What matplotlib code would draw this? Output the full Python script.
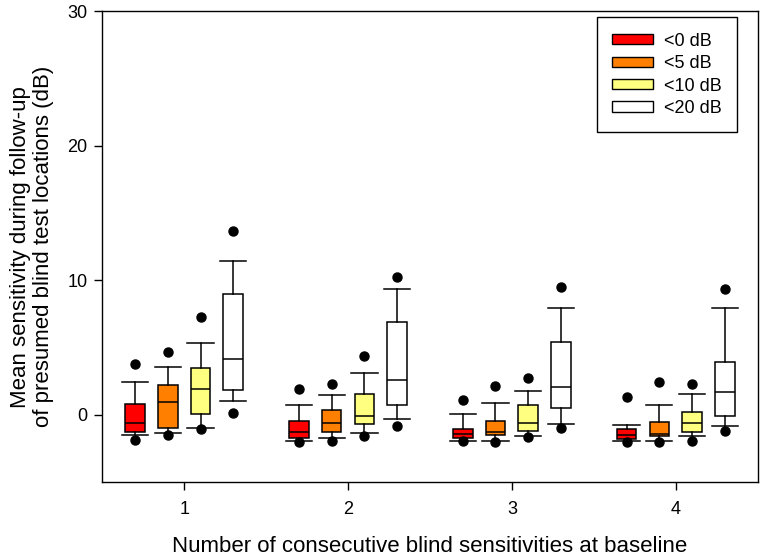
import matplotlib
matplotlib.use("Agg")
from matplotlib import pyplot as plt
from matplotlib.patches import Patch

plt.rcParams['font.family'] = ['Liberation Sans', 'DejaVu Sans']

groups = [1, 2, 3, 4]
series = ["<0 dB", "<5 dB", "<10 dB", "<20 dB"]
colors = ["#FF0000", "#FF8000", "#FFFF80", "#FFFFFF"]

# per series, one value per group (1..4)
q1 = [
    [-1.24, -1.73, -1.70, -1.80],
    [-0.94, -1.26, -1.53, -1.60],
    [0.03, -0.69, -1.19, -1.28],
    [1.83, 0.77, 0.54, -0.05],
]
med = [
    [-0.57, -1.26, -1.40, -1.48],
    [0.96, -0.62, -1.26, -1.43],
    [1.93, -0.07, -0.59, -0.62],
    [4.12, 2.57, 2.10, 1.70],
]
q3 = [
    [0.79, -0.49, -1.04, -1.06],
    [2.22, 0.37, -0.42, -0.52],
    [3.51, 1.53, 0.72, 0.22],
    [9.01, 6.89, 5.41, 3.95],
]
whislo = [
    [-1.50, -1.95, -1.95, -1.95],
    [-1.31, -1.75, -1.95, -1.95],
    [-0.94, -1.38, -1.56, -1.60],
    [1.04, -0.30, -0.69, -0.81],
]
whishi = [
    [2.47, 0.77, 0.10, -0.72],
    [3.56, 1.51, 0.91, 0.77],
    [5.33, 3.14, 1.78, 1.58],
    [11.46, 9.33, 7.93, 7.93],
]
dot_lo = [
    [-1.88, -2.00, -1.97, -2.00],
    [-1.48, -1.95, -2.00, -2.00],
    [-1.06, -1.60, -1.65, -1.95],
    [0.12, -0.81, -0.99, -1.23],
]
dot_hi = [
    [3.80, 1.90, 1.10, 1.30],
    [4.69, 2.30, 2.12, 2.47],
    [7.26, 4.40, 2.77, 2.30],
    [13.70, 10.25, 9.48, 9.33],
]

offsets = [-0.3, -0.1, 0.1, 0.3]

fig = plt.figure(figsize=(7.63, 5.6), dpi=100)
ax = fig.add_axes([0.134, 0.139, 0.859, 0.841])

for s in range(len(series)):
    stats = []
    for g in range(len(groups)):
        stats.append({
            "med": med[s][g], "q1": q1[s][g], "q3": q3[s][g],
            "whislo": whislo[s][g], "whishi": whishi[s][g],
            "fliers": [dot_lo[s][g], dot_hi[s][g]],
        })
    pos = [x + offsets[s] for x in groups]
    ax.bxp(stats, positions=pos, widths=0.12, capwidths=0.16,
           patch_artist=True, showfliers=True, manage_ticks=False,
           boxprops=dict(facecolor=colors[s], edgecolor="black", linewidth=1.1),
           medianprops=dict(color="black", linewidth=1.1),
           whiskerprops=dict(color="black", linewidth=1.1),
           capprops=dict(color="black", linewidth=1.1),
           flierprops=dict(marker="o", markerfacecolor="black",
                           markeredgecolor="black", markersize=6.5))

ax.set_xlim(0.5, 4.5)
ax.set_ylim(-5, 30)
ax.set_xticks(groups)
ax.set_yticks([0, 10, 20, 30])
ax.tick_params(direction="out", labelsize=13, length=5.5, width=1)
ax.tick_params(axis="x", pad=8)
ax.tick_params(axis="y", pad=5)
ax.set_xlabel("Number of consecutive blind sensitivities at baseline", fontsize=16, labelpad=13)
ax.set_ylabel("Mean sensitivity during follow-up\nof presumed blind test locations (dB)",
              fontsize=16, labelpad=10, linespacing=1.1)
for sp in ax.spines.values():
    sp.set_linewidth(1)

handles = [Patch(facecolor=c, edgecolor="black", label=l) for c, l in zip(colors, series)]
ax.legend(handles=handles, loc="upper right", fontsize=13, fancybox=False,
          edgecolor="black", framealpha=1, handlelength=2.27, handleheight=0.5,
          handletextpad=0.6, borderpad=0.85, labelspacing=0.3,
          borderaxespad=0, bbox_to_anchor=(0.9686, 0.987))

plt.savefig("out.png", dpi=100)
